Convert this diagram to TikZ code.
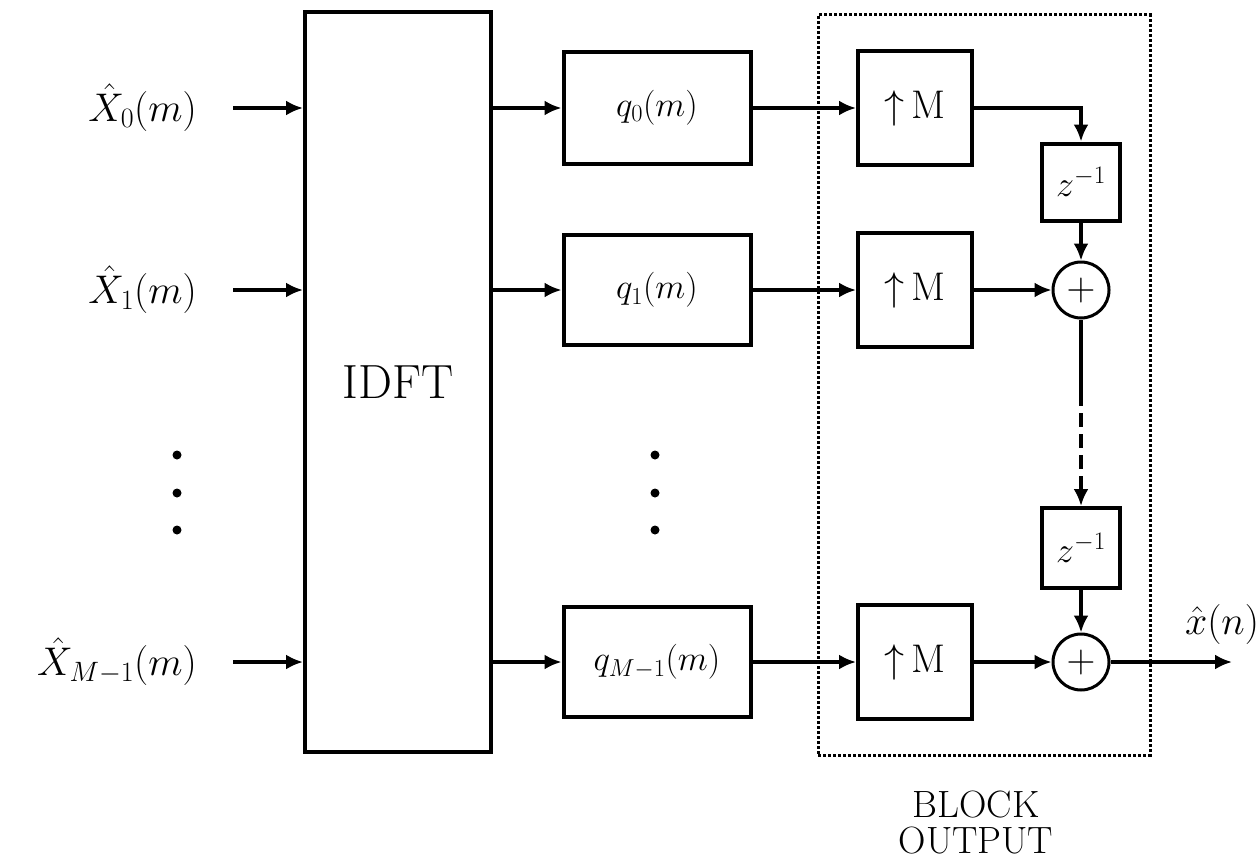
\RequirePackage{fix-cm}
\documentclass[tikz,border=0pt]{standalone}
\usetikzlibrary{arrows.meta}
\begin{document}
\begin{tikzpicture}[x=1pt,y=-1pt,
  conn/.style={line width=3.2pt},
  arr/.style={conn,-{Latex[length=17pt,width=15pt]}},
  blk/.style={draw,line width=4pt,rectangle,inner sep=0pt},
  lbl/.style={font=\fontsize{40}{48}\selectfont,inner sep=0pt},
  qlbl/.style={font=\fontsize{35}{42}\selectfont},
  dotm/.style={circle,fill,inner sep=0pt,minimum size=9pt}]
\useasboundingbox (0,0) rectangle (1260,859);
% IDFT
\node[blk,minimum width=186pt,minimum height=739pt,font=\fontsize{48}{56}\selectfont] (idft) at (398,382) {IDFT};
% inputs
\node[lbl,anchor=east] (x0) at (197,108) {$\hat X_0(m)$};
\node[lbl,anchor=east] (x1) at (197,290) {$\hat X_1(m)$};
\node[lbl,anchor=east] (xm) at (197,662) {$\hat X_{M-1}(m)$};
\draw[arr] (x0.east) ++(36,0) coordinate (s0) -- (s0 -| idft.west);
\draw[arr] (x1.east) ++(36,0) coordinate (s1) -- (s1 -| idft.west);
\draw[arr] (xm.east) ++(36,0) coordinate (sm) -- (sm -| idft.west);
\node[dotm] (d1) at (177,455) {};
\node[dotm] (d2) at (177,493) {};
\node[dotm] (d3) at (177,530) {};
% q boxes
\node[blk,minimum width=187pt,minimum height=112pt,qlbl] (q0) at (657,108) {$q_0(m)$};
\node[blk,minimum width=187pt,minimum height=110pt,qlbl] (q1) at (657,290) {$q_1(m)$};
\node[blk,minimum width=187pt,minimum height=110pt,qlbl] (qm) at (657,662) {$q_{M-1}(m)$};
\draw[arr] (q0.west -| idft.east) -- (q0.west);
\draw[arr] (q1.west -| idft.east) -- (q1.west);
\draw[arr] (qm.west -| idft.east) -- (qm.west);
\node[dotm] (e1) at (655,455) {};
\node[dotm] (e2) at (655,493) {};
\node[dotm] (e3) at (655,530) {};
% block output frame
\node[draw,dotted,line width=3pt,inner sep=0pt,minimum width=332pt,minimum height=740pt] (frame) at (984,385) {};
\node[font=\fontsize{38}{36}\selectfont,align=center,inner sep=0pt] (bo) at (976,823) {BLOCK\\OUTPUT};
% upsamplers
\node[blk,minimum width=114pt,minimum height=114pt,lbl] (u0) at (915,108) {$\big\uparrow$\,M};
\node[blk,minimum width=114pt,minimum height=114pt,lbl] (u1) at (915,290) {$\big\uparrow$\,M};
\node[blk,minimum width=114pt,minimum height=114pt,lbl] (um) at (915,662) {$\big\uparrow$\,M};
\draw[arr] (q0.east) -- (u0.west);
\draw[arr] (q1.east) -- (u1.west);
\draw[arr] (qm.east) -- (um.west);
% delays and adders
\node[blk,minimum width=78pt,minimum height=77pt,font=\fontsize{36}{42}\selectfont] (z1) at (1081,182) {$z^{-1}$};
\node[blk,minimum width=78pt,minimum height=80pt,font=\fontsize{36}{42}\selectfont] (z2) at (1081,548) {$z^{-1}$};
\node[draw,circle,line width=3pt,minimum size=56pt,inner sep=0pt,font=\fontsize{40}{48}\selectfont] (a1) at (1081,290) {$+$};
\node[draw,circle,line width=3pt,minimum size=56pt,inner sep=0pt,font=\fontsize{40}{48}\selectfont] (a2) at (1081,662) {$+$};
\draw[arr] (u0.east) -| (z1.north);
\draw[arr] (z1.south) -- (a1.north);
\draw[arr] (u1.east) -- (a1.west);
\coordinate (brk) at (1081,392);
\draw[conn] (a1.south) -- (brk);
\draw[arr,dash pattern=on 14pt off 7pt] (brk) -- (z2.north);
\draw[arr] (z2.south) -- (a2.north);
\draw[arr] (um.east) -- (a2.west);
\coordinate (out) at (1232,662);
\draw[arr] (a2.east) -- (out);
\node[lbl] (xo) at (1222,624) {$\hat x(n)$};
\end{tikzpicture}
\end{document}
